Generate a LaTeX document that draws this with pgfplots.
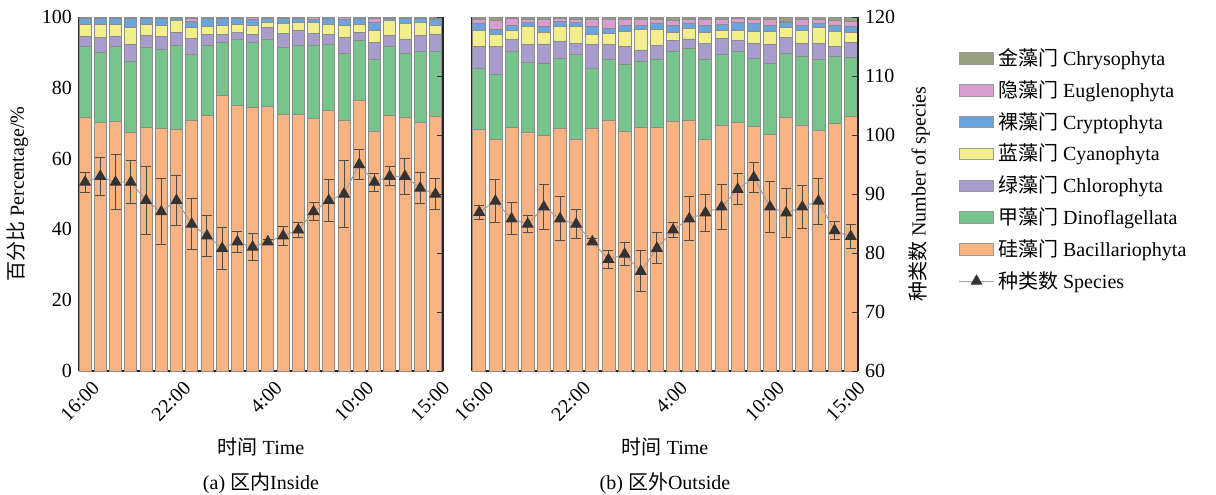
\documentclass[border=0pt]{standalone}
\usepackage{pgfplots}
\pgfplotsset{compat=1.18}
\usepackage{pgfplotstable}
\usepackage{fontspec}
\setmainfont{Liberation Serif}
\newfontfamily\cjk{Noto Sans CJK SC}

\definecolor{bac}{RGB}{247,179,130}
\definecolor{dino}{RGB}{118,196,140}
\definecolor{chl}{RGB}{168,156,204}
\definecolor{cya}{RGB}{242,238,140}
\definecolor{cry}{RGB}{106,164,220}
\definecolor{eug}{RGB}{218,155,206}
\definecolor{chr}{RGB}{152,160,128}

\pgfplotstableread{
x bac dino chl cya cry eug chr sp err
0  71.6 20.0 2.8 3.5 1.7 0.2 0.2 92.0 1.7
1  70.1 19.9 4.2 3.7 1.8 0.2 0.1 93.0 3.2
2  70.4 21.2 2.8 3.5 1.8 0.2 0.1 92.0 4.7
3  67.4 20.1 4.7 4.8 2.5 0.4 0.1 92.0 3.6
4  68.8 22.6 3.3 3.3 1.7 0.2 0.1 88.9 5.8
5  68.4 22.5 3.5 3.3 2.0 0.2 0.1 87.0 5.6
6  68.3 23.6 3.7 3.3 0.8 0.2 0.1 88.9 4.2
7  70.8 18.6 4.5 3.2 1.7 0.7 0.5 84.9 4.3
8  72.1 19.9 3.1 2.2 2.4 0.2 0.1 82.9 3.5
9  77.9 14.9 2.3 2.6 2.0 0.2 0.1 80.8 3.6
10 74.9 18.8 2.0 2.2 1.8 0.2 0.1 81.9 1.8
11 74.4 18.5 2.1 2.6 1.8 0.5 0.1 81.0 2.3
12 74.7 19.1 3.2 1.6 1.1 0.2 0.1 81.9 0.4
13 72.5 18.8 4.1 2.8 1.5 0.2 0.1 82.9 1.6
14 72.5 19.6 4.0 2.3 1.3 0.2 0.1 83.9 1.2
15 71.4 20.7 3.3 3.0 1.0 0.4 0.2 87.0 1.5
16 73.6 18.8 2.6 3.0 1.6 0.3 0.1 88.9 3.6
17 70.8 18.9 4.5 3.4 1.6 0.6 0.2 90.0 5.7
18 76.5 16.9 2.2 2.3 1.6 0.4 0.1 95.0 2.6
19 67.6 20.4 4.8 3.5 2.1 1.1 0.5 92.0 1.5
20 72.2 19.4 3.1 4.2 0.8 0.2 0.1 93.0 1.6
21 71.7 18.0 4.1 4.4 1.4 0.2 0.2 93.0 3.1
22 70.1 20.1 4.5 3.9 1.0 0.2 0.2 91.0 2.6
23 72.0 18.3 4.9 2.3 1.7 0.5 0.3 90.0 2.7
}\inside

\pgfplotstableread{
x bac dino chl cya cry eug chr sp err
0  68.2 17.3 6.3 4.3 2.1 1.2 0.6 86.9 1.2
1  65.4 18.4 8.0 3.3 1.5 2.4 1.0 88.8 3.6
2  68.8 21.4 3.5 2.6 1.4 1.8 0.5 85.8 2.7
3  67.5 19.7 5.1 5.0 1.3 0.8 0.6 84.9 1.5
4  66.6 20.3 5.5 3.2 1.7 2.0 0.7 87.8 3.8
5  68.4 19.9 4.7 4.3 1.4 0.8 0.5 85.8 3.7
6  65.5 24.0 3.1 4.7 1.1 0.9 0.7 84.9 2.5
7  68.4 17.1 6.8 2.8 2.2 2.0 0.7 81.9 0.5
8  70.8 17.1 4.4 3.1 1.4 2.4 0.8 78.9 1.5
9  67.8 18.8 5.2 4.2 1.7 1.5 0.8 79.8 2.0
10 68.8 18.8 3.1 5.8 1.2 1.5 0.8 76.9 3.5
11 68.8 19.1 4.0 4.7 1.6 1.1 0.7 80.8 2.6
12 70.6 19.6 3.3 2.1 1.9 1.5 1.0 83.9 1.2
13 70.8 20.3 2.7 3.0 1.4 1.2 0.6 85.8 3.7
14 65.4 22.6 4.6 3.0 2.1 1.5 0.8 86.8 3.2
15 69.4 20.1 4.4 2.4 1.6 1.5 0.6 87.8 3.8
16 70.2 20.2 3.1 2.8 2.2 1.0 0.5 90.8 2.6
17 69.0 19.3 4.3 3.3 2.3 1.0 0.8 92.8 2.5
18 66.7 20.2 5.4 3.7 1.7 1.5 0.8 87.8 4.3
19 71.5 18.2 4.5 2.8 1.4 0.4 1.2 86.8 4.1
20 69.5 19.5 3.6 3.7 1.4 1.5 0.8 87.8 3.7
21 68.0 19.9 4.7 4.5 1.1 1.2 0.6 88.8 3.9
22 70.0 18.8 2.8 4.3 1.6 1.5 1.0 83.8 1.5
23 72.0 16.6 4.1 2.9 1.7 1.5 1.2 82.8 2.1
}\outside

\pgfplotsset{
  base/.style={scale only axis, height=177pt,
    /pgf/number format/assume math mode=true,
    tick label style={font=\fontsize{10}{12}\selectfont},
    label style={font=\fontsize{10}{12}\selectfont},
    tick align=inside, major tick length=3pt, minor tick length=2.5pt,
    axis line style={black!85, line width=0.6pt},
    tick style={black!80, line width=0.5pt},
    clip=false},
  pct/.style={base, ybar stacked, ymin=0, ymax=100,
    axis x line*=bottom, axis y line*=left,
    ytick={0,20,...,100},
    xtick={0,6,12,18,23},
    minor xtick={0,...,23},
    xticklabels={16:00,22:00,4:00,10:00,15:00},
    xticklabel style={xshift=3pt, yshift=-3pt, rotate=45, anchor=north east, inner sep=1pt},
    every axis plot/.append style={draw=black!45, line width=0.4pt},
    xlabel={{\cjk 时间} Time},
    xlabel style={yshift=-3pt}},
  spec/.style={base, ymin=60, ymax=120, axis y line*=right, axis x line=none,
    xtick=\empty, ytick={60,70,...,120}},
  sp/.style={gray!75, line width=0.5pt, mark=triangle*, mark size=3pt,
    mark options={fill=black!80, draw=black!80, solid},
    error bars/.cd, y dir=both, y explicit,
    error bar style={black!70, line width=0.5pt},
    error mark options={rotate=90, black!70, line width=0.5pt, mark size=2.5pt}},
}

\begin{document}
\begin{tikzpicture}
\useasboundingbox (-39.5pt,-61.5pt) rectangle (568.5pt,185.5pt);
% ---------- panel (a)
\begin{axis}[pct, at={(0,0)}, width=182pt, xmin=-0.4, xmax=23.5, bar width=6pt,
  ylabel={{\cjk 百分比} Percentage/\%}]
\addplot[fill=bac]  table[x=x,y=bac]  \inside;
\addplot[fill=dino] table[x=x,y=dino] \inside;
\addplot[fill=chl]  table[x=x,y=chl]  \inside;
\addplot[fill=cya]  table[x=x,y=cya]  \inside;
\addplot[fill=cry]  table[x=x,y=cry]  \inside;
\addplot[fill=eug]  table[x=x,y=eug]  \inside;
\addplot[fill=chr]  table[x=x,y=chr]  \inside;
\node[font=\fontsize{10}{12}\selectfont] at (rel axis cs:0.5,0) [yshift=-56pt] {(a) {\cjk 区内}Inside};
\end{axis}
\begin{axis}[spec, at={(0,0)}, width=182pt, xmin=-0.4, xmax=23.5, yticklabel=\empty]
\addplot[sp] table[x=x, y=sp, y error=err] \inside;
\end{axis}
% ---------- panel (b)
\begin{axis}[pct, at={(196.5pt,0)}, width=193pt, xmin=-0.45, xmax=23.45, bar width=6.5pt,
  yticklabel=\empty]
\addplot[fill=bac]  table[x=x,y=bac]  \outside;
\addplot[fill=dino] table[x=x,y=dino] \outside;
\addplot[fill=chl]  table[x=x,y=chl]  \outside;
\addplot[fill=cya]  table[x=x,y=cya]  \outside;
\addplot[fill=cry]  table[x=x,y=cry]  \outside;
\addplot[fill=eug]  table[x=x,y=eug]  \outside;
\addplot[fill=chr]  table[x=x,y=chr]  \outside;
\node[font=\fontsize{10}{12}\selectfont] at (rel axis cs:0.5,0) [yshift=-56pt] {(b) {\cjk 区外}Outside};
\end{axis}
\begin{axis}[spec, at={(196.5pt,0)}, width=193pt, xmin=-0.45, xmax=23.45,
  ylabel={{\cjk 种类数} Number of species},
  legend style={at={(1.245,0.935)}, anchor=north west, draw=none, fill=none,
    font=\fontsize{10}{12}\selectfont, row sep=2pt},
  legend cell align=left]
\addlegendimage{area legend, fill=chr, draw=gray!80}
\addlegendimage{area legend, fill=eug, draw=gray!80}
\addlegendimage{area legend, fill=cry, draw=gray!80}
\addlegendimage{area legend, fill=cya, draw=gray!80}
\addlegendimage{area legend, fill=chl, draw=gray!80}
\addlegendimage{area legend, fill=dino, draw=gray!80}
\addlegendimage{area legend, fill=bac, draw=gray!80}
\addplot[sp] table[x=x, y=sp, y error=err] \outside;
\legend{{\cjk 金藻门} Chrysophyta, {\cjk 隐藻门} Euglenophyta, {\cjk 裸藻门} Cryptophyta,
  {\cjk 蓝藻门} Cyanophyta, {\cjk 绿藻门} Chlorophyta, {\cjk 甲藻门} Dinoflagellata,
  {\cjk 硅藻门} Bacillariophyta, {\cjk 种类数} Species}
\end{axis}
\end{tikzpicture}
\end{document}
